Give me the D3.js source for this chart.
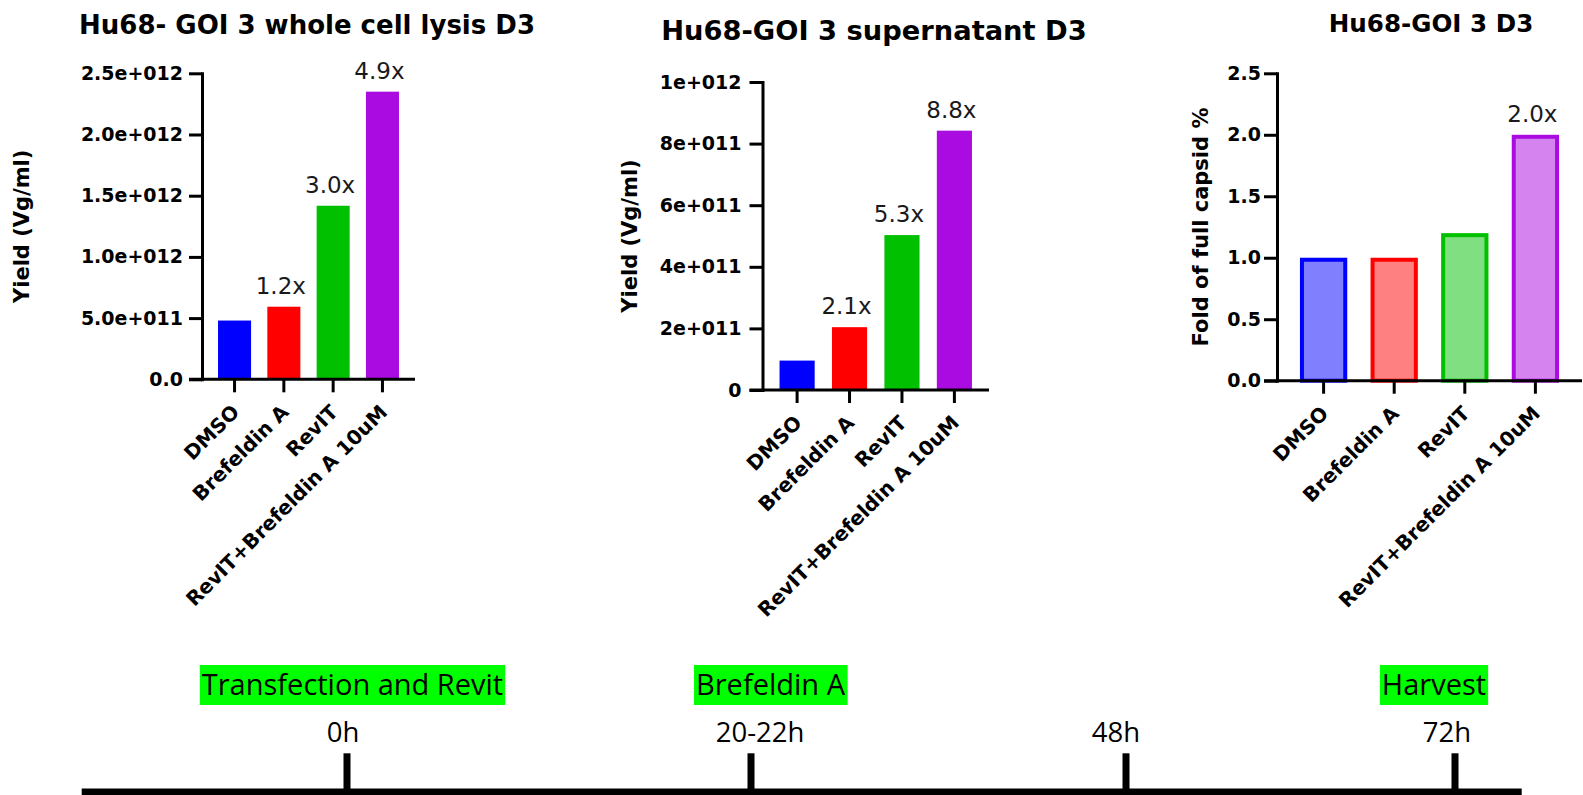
<!DOCTYPE html>
<html><head><meta charset="utf-8">
<script src="https://cdn.jsdelivr.net/npm/d3@7"></script>
<style>html,body{margin:0;padding:0;background:#fff;} svg{display:block;}</style>
</head><body>
<svg id="chart" width="1583" height="795"></svg>
<script>
// ---------- DATA ----------
const categories = ["DMSO", "Brefeldin A", "RevIT", "RevIT+Brefeldin A 10uM"];

const lysisValues = [4.8e11, 5.93e11, 1.418e12, 2.35e12];
const lysisFoldLabels = ["", "1.2x", "3.0x", "4.9x"];
const lysisTicks = [0, 5e11, 1e12, 1.5e12, 2e12, 2.5e12];
const lysisTickLabels = ["0.0", "5.0e+011", "1.0e+012", "1.5e+012", "2.0e+012", "2.5e+012"];

const supernatantValues = [9.55e10, 2.04e11, 5.03e11, 8.42e11];
const supernatantFoldLabels = ["", "2.1x", "5.3x", "8.8x"];
const supernatantTicks = [0, 2e11, 4e11, 6e11, 8e11, 1e12];
const supernatantTickLabels = ["0", "2e+011", "4e+011", "6e+011", "8e+011", "1e+012"];

const capsidValues = [1.0, 1.0, 1.2, 2.0];
const capsidFoldLabels = ["", "", "", "2.0x"];
const capsidTicks = [0, 0.5, 1.0, 1.5, 2.0, 2.5];
const capsidTickLabels = ["0.0", "0.5", "1.0", "1.5", "2.0", "2.5"];

const titles = ["Hu68- GOI 3 whole cell lysis D3", "Hu68-GOI 3 supernatant D3", "Hu68-GOI 3 D3"];
const yTitles = ["Yield (Vg/ml)", "Yield (Vg/ml)", "Fold of full capsid %"];

const barColors = ["#0000FF", "#FF0000", "#00C000", "#AA0BE0"];
const lightFills = ["#8080FF", "#FF8080", "#80DF80", "#D584EF"];

const timeLabels = ["0h", "20-22h", "48h", "72h"];
const timeHours = [0, 21, 48, 72];
const events = ["Transfection and Revit", "Brefeldin A", "Harvest"];
const eventHours = [0, 21, 72];

// ---------- LAYOUT ----------
const svg = d3.select("#chart");
const BOLD = "'DejaVu Sans', sans-serif";

const panels = [
  { values: lysisValues, folds: lysisFoldLabels, ticks: lysisTicks, tickLabels: lysisTickLabels,
    max: 2.5e12, title: titles[0], yTitle: yTitles[0],
    axisX: 202, x1: 415, y0: 379.3, yTop: 73.3, titleX: 307, titleY: 34, titleSize: 26,
    yTitleX: 29, tickPad: 6, outlined: false },
  { values: supernatantValues, folds: supernatantFoldLabels, ticks: supernatantTicks, tickLabels: supernatantTickLabels,
    max: 1e12, title: titles[1], yTitle: yTitles[1],
    axisX: 762.5, x1: 989, y0: 390, yTop: 82, titleX: 874, titleY: 39.5, titleSize: 27.3,
    yTitleX: 637, tickPad: 8, outlined: false },
  { values: capsidValues, folds: capsidFoldLabels, ticks: capsidTicks, tickLabels: capsidTickLabels,
    max: 2.5, title: titles[2], yTitle: yTitles[2],
    axisX: 1277, x1: 1582, y0: 380.7, yTop: 73.3, titleX: 1431, titleY: 31.7, titleSize: 24.6,
    yTitleX: 1208, tickPad: 3, outlined: true }
];

const TICK = 13;

panels.forEach(p => {
  const g = svg.append("g");
  const x = d3.scaleBand().domain(categories).range([p.axisX, p.x1])
    .paddingInner(0.33).paddingOuter(0.325);
  const y = d3.scaleLinear().domain([0, p.max]).range([p.y0, p.yTop]);
  const bw = x.bandwidth();

  // bars
  if (!p.outlined) {
    g.selectAll("rect.bar").data(categories).join("rect")
      .attr("x", d => x(d)).attr("width", bw)
      .attr("y", (d, i) => y(p.values[i]))
      .attr("height", (d, i) => y(0) - y(p.values[i]))
      .attr("fill", (d, i) => barColors[i]);
  } else {
    const sw = 4;
    g.selectAll("rect.bar").data(categories).join("rect")
      .attr("x", d => x(d) + sw / 2).attr("width", bw - sw)
      .attr("y", (d, i) => y(p.values[i]) + sw / 2)
      .attr("height", (d, i) => y(0) - y(p.values[i]) - sw / 2)
      .attr("fill", (d, i) => lightFills[i])
      .attr("stroke", (d, i) => barColors[i])
      .attr("stroke-width", sw);
  }

  // fold labels
  g.selectAll("text.fold").data(categories).join("text")
    .attr("x", d => x(d) + bw / 2 - 3)
    .attr("y", (d, i) => y(p.values[i]) - 13)
    .attr("text-anchor", "middle")
    .attr("font-family", BOLD).attr("font-size", 23)
    .attr("fill", "#1a1a1a")
    .text((d, i) => p.folds[i]);

  // y axis
  const ya = g.append("g").attr("transform", `translate(${p.axisX},0)`)
    .call(d3.axisLeft(y).tickValues(p.ticks).tickSize(TICK).tickSizeOuter(0)
      .tickPadding(p.tickPad).tickFormat((d, i) => p.tickLabels[i]));
  ya.select(".domain").attr("stroke", "#000").attr("stroke-width", 3).attr("stroke-linecap", "square");
  ya.selectAll(".tick line").attr("stroke", "#000").attr("stroke-width", 3);
  ya.selectAll(".tick text").attr("font-family", BOLD).attr("font-weight", "bold")
    .attr("font-size", 19).attr("fill", "#000");

  // x axis
  const xa = g.append("g").attr("transform", `translate(0,${p.y0})`)
    .call(d3.axisBottom(x).tickSize(TICK).tickSizeOuter(0).tickFormat(""));
  xa.select(".domain").remove();
  xa.selectAll(".tick line").attr("stroke", "#000").attr("stroke-width", 3);
  g.append("line")
    .attr("x1", p.axisX - TICK).attr("x2", x.range()[1])
    .attr("y1", p.y0).attr("y2", p.y0)
    .attr("stroke", "#000").attr("stroke-width", 3);

  // category labels
  g.selectAll("text.cat").data(categories).join("text")
    .attr("transform", d => `translate(${x(d) + bw / 2 + 6},${p.y0 + 34}) rotate(-45)`)
    .attr("text-anchor", "end")
    .attr("font-family", BOLD).attr("font-weight", "bold").attr("font-size", 20)
    .attr("fill", "#000")
    .text(d => d);

  // title
  g.append("text").attr("x", p.titleX).attr("y", p.titleY)
    .attr("text-anchor", "middle")
    .attr("font-family", BOLD).attr("font-weight", "bold").attr("font-size", p.titleSize)
    .attr("fill", "#000").text(p.title);

  // y title
  g.append("text")
    .attr("transform", `translate(${p.yTitleX},${(p.y0 + p.yTop) / 2}) rotate(-90)`)
    .attr("text-anchor", "middle")
    .attr("font-family", BOLD).attr("font-weight", "bold").attr("font-size", 21)
    .attr("fill", "#000").text(p.yTitle);
});

// ---------- TIMELINE ----------
const TL = "'Open Sans', sans-serif";
const t = d3.scaleLinear().domain(timeHours).range([347, 751, 1126, 1455]);
const tl = svg.append("g");
tl.append("rect").attr("x", 81.7).attr("y", 788.5).attr("width", 1440).attr("height", 6.5).attr("fill", "#000");
tl.selectAll("rect.tk").data(timeHours).join("rect")
  .attr("x", h => t(h) - 3.5).attr("y", 753.3).attr("width", 7).attr("height", 36).attr("fill", "#000");
const hourDx = [-4, 9, -10, -8];
tl.selectAll("text.hr").data(timeLabels).join("text")
  .attr("x", (d, i) => t(timeHours[i]) + hourDx[i]).attr("y", 741.7)
  .attr("text-anchor", "middle").attr("font-family", TL).attr("font-size", 27.5)
  .attr("fill", "#000").text(d => d);
const eventDx = [5.5, 19.5, -21];
events.forEach((e, i) => {
  const eg = tl.append("g");
  const box = eg.append("rect");
  const txt = eg.append("text")
    .attr("x", t(eventHours[i]) + eventDx[i]).attr("y", 695)
    .attr("text-anchor", "middle").attr("font-family", TL).attr("font-size", 29)
    .attr("fill", "#000").text(e);
  const bb = txt.node().getBBox();
  box.attr("x", bb.x - 2).attr("y", 665).attr("width", bb.width + 4).attr("height", 40).attr("fill", "#00FF00");
});
</script>
</body></html>
